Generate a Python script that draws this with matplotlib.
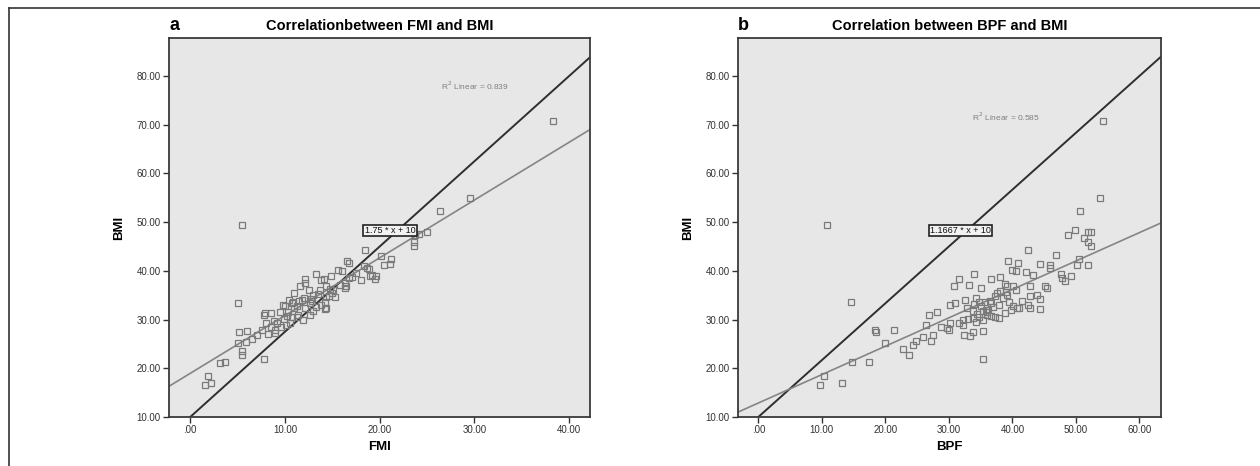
import numpy as np
import matplotlib
matplotlib.use("Agg")
import matplotlib.pyplot as plt
from matplotlib.ticker import FuncFormatter
from matplotlib.lines import Line2D

plt.rcParams['font.family'] = ['Liberation Sans', 'DejaVu Sans']

# panel a: FMI vs BMI
fmi_a = [38.3, 29.5, 26.4, 5.5, 25.0, 23.7, 23.6, 23.6, 24.2,
         18.5, 20.1, 21.2, 20.5, 21.1, 16.5, 16.8, 15.6, 18.7, 18.3,
         19.0, 19.2, 19.6, 18.0, 17.1, 16.3, 16.3, 16.4, 15.0, 14.7, 14.3, 13.5,
         14.9, 14.1, 13.3, 12.1, 11.6, 12.1, 13.8, 14.3, 13.0, 15.1,
         10.0, 10.3, 10.7, 11.0, 11.3, 11.8, 12.1, 12.6, 13.3, 13.8, 14.2,
         11.4, 10.7, 9.9, 9.2, 8.5, 7.8, 8.0, 7.6, 8.2, 8.9, 9.6, 10.5,
         7.1, 6.5, 5.9, 5.0, 5.1, 6.0, 5.0, 5.5, 5.5, 7.8, 3.1, 3.7,
         1.9, 1.6, 2.2,
         10.4, 9.8, 10.9, 8.5, 7.9, 12.6, 13.0, 11.9, 11.3, 12.9, 14.2, 14.3,
         15.3, 12.0, 11.0, 13.7, 15.8, 16.8, 17.5, 12.5, 9.5, 10.2, 8.8, 11.5,
         12.8, 14.8, 16.0, 18.9, 19.5, 9.0, 10.1]
bmi_a = [70.7, 55.0, 52.2, 49.4, 47.9, 47.4, 46.0, 45.1, 47.6,
         44.3, 43.1, 42.4, 41.3, 41.4, 42.1, 41.6, 40.2, 40.6, 40.9,
         38.9, 39.2, 39.0, 38.2, 38.7, 37.6, 36.5, 36.9, 35.4, 34.9, 34.7, 35.2,
         39.0, 38.4, 39.3, 38.4, 36.9, 37.5, 38.2, 36.8, 35.0, 36.1,
         32.8, 31.6, 33.3, 32.3, 32.8, 34.0, 32.3, 33.5, 32.6, 33.0, 32.1,
         30.9, 30.6, 30.2, 29.2, 28.5, 30.9, 29.2, 27.8, 27.0, 27.3, 28.5, 29.2,
         26.8, 26.1, 25.4, 25.1, 27.5, 27.7, 33.5, 23.6, 22.7, 22.0, 21.0, 21.2,
         18.5, 16.5, 17.0,
         34.1, 33.0, 33.7, 31.3, 31.3, 31.0, 31.7, 30.0, 30.6, 33.9, 33.7, 32.4,
         34.7, 34.5, 35.5, 36.0, 37.0, 38.5, 39.5, 36.0, 31.5, 30.8, 29.8, 33.8,
         34.3, 36.3, 40.0, 40.3, 38.3, 27.9, 28.9]

# panel b: BPF vs BMI
bpf_b = [54.3, 53.8, 50.7, 10.8, 49.8, 48.7, 51.9, 52.4, 51.2, 51.9, 52.3,
         42.5, 46.8, 39.3, 40.9, 44.4, 46.0, 50.5, 50.2, 51.9, 39.9, 40.5,
         46.0, 47.7, 49.2, 47.8, 48.3, 42.1, 43.3, 33.9, 31.6, 36.7, 38.1,
         30.8, 33.2, 35.0, 39.2, 40.1, 40.5, 42.7, 45.5, 45.2, 43.8, 42.7,
         44.3, 37.6, 39.2, 37.3, 34.2, 32.5, 31.0, 30.1, 34.8, 35.7, 36.7,
         37.9, 40.1, 40.8, 42.4, 42.7, 44.3, 39.8, 38.9, 32.9, 33.8, 35.4,
         36.0, 34.8, 33.8, 36.7, 37.9, 32.2, 35.4, 26.8, 28.1, 26.4, 28.7,
         30.1, 30.0, 29.7, 31.6, 32.2, 27.5, 27.2, 25.9, 24.9, 24.3, 22.7,
         23.8, 20.0, 21.4, 18.3, 18.6, 14.6, 14.8, 17.4, 10.3, 9.7, 13.2,
         35.4, 35.3, 32.4, 33.4, 33.8,
         34.0, 35.0, 36.2, 37.0, 38.5, 39.5, 41.0, 34.5, 36.5, 38.0, 33.0,
         35.8, 37.2, 39.0, 41.5, 36.0, 34.2, 38.8]
bmi_b = [70.7, 55.0, 52.2, 49.4, 48.4, 47.3, 47.9, 47.9, 46.7, 46.0, 45.2,
         44.2, 43.2, 42.1, 41.7, 41.4, 41.1, 42.5, 41.1, 41.2, 40.1, 39.9,
         40.6, 39.3, 38.9, 38.5, 38.0, 39.7, 39.2, 39.3, 38.4, 38.3, 38.8,
         36.8, 37.0, 36.5, 36.9, 36.8, 36.1, 36.8, 36.5, 36.8, 35.1, 34.9,
         34.2, 35.4, 35.1, 34.9, 34.5, 34.1, 33.4, 32.9, 33.7, 33.7, 33.4,
         33.0, 32.7, 32.4, 33.0, 32.4, 32.1, 32.0, 31.3, 32.4, 31.7, 31.7,
         31.0, 30.6, 30.3, 30.8, 30.3, 29.9, 29.9, 31.0, 31.5, 28.9, 28.5,
         29.3, 27.9, 28.3, 29.3, 28.9, 26.9, 25.5, 26.4, 25.7, 24.8, 24.0,
         22.8, 25.2, 27.8, 27.9, 27.4, 33.6, 21.2, 21.3, 18.5, 16.6, 17.0,
         22.0, 27.7, 26.9, 26.7, 27.4,
         33.2, 32.8, 31.9, 32.6, 34.4, 33.6, 32.4, 31.2, 33.9, 35.8, 30.2,
         32.0, 30.5, 35.6, 33.8, 31.6, 29.5, 37.2]

# fit lines (slope, intercept) and reference lines, as printed on the chart
fit_a = (1.186, 18.96)
fit_b = (0.583, 12.87)
ref_a = (1.75, 10)
ref_b = (1.1667, 10)
r2_a = 0.839
r2_b = 0.585
yticks = [10, 20, 30, 40, 50, 60, 70, 80]
xticks_a = [0, 10, 20, 30, 40]
xticks_b = [0, 10, 20, 30, 40, 50, 60]


def fmt(v, pos):
    s = f"{v:.2f}"
    return s[1:] if s.startswith("0") else s


fig = plt.figure(figsize=(12.6, 4.66), dpi=100)
W, H = 1260, 466


def px_axes(l, r, t, b):
    return fig.add_axes([l / W, 1 - b / H, (r - l) / W, (b - t) / H])


panels = [
    dict(box=(169, 590, 38, 417), x=fmi_a, y=bmi_a, xlim=(-2.24, 42.2), xticks=xticks_a,
         fit=fit_a, ref=ref_a, r2=r2_a, r2pos=(30.0, 78.0), lab=(21.1, 48.3),
         labtxt="1.75 * x + 10", letter="a", title="Correlationbetween FMI and BMI",
         xlabel="FMI"),
    dict(box=(738, 1161, 38, 417), x=bpf_b, y=bmi_b, xlim=(-3.2, 63.4), xticks=xticks_b,
         fit=fit_b, ref=ref_b, r2=r2_b, r2pos=(39.0, 71.7), lab=(31.8, 48.3),
         labtxt="1.1667 * x + 10", letter="b", title="Correlation between BPF and BMI",
         xlabel="BPF"),
]

for p in panels:
    l, r, t, b = p['box']
    ax = px_axes(l, r, t, b)
    ax.set_facecolor('#e7e7e7')
    ax.set_xlim(*p['xlim'])
    ax.set_ylim(10, 87.8)
    xs = np.array(p['xlim'])
    # reference line and fitted line
    ax.plot(xs, p['ref'][0] * xs + p['ref'][1], color='#2e2e2e', lw=1.4, zorder=2)
    ax.plot(xs, p['fit'][0] * xs + p['fit'][1], color='#858585', lw=1.2, zorder=2)
    ax.plot(p['x'], p['y'], ls='none', marker='s', ms=4.4, mfc='none',
            mec='#7a7a7a', mew=0.9, zorder=3)
    ax.text(p['r2pos'][0], p['r2pos'][1], "R$^2$ Linear = %.3f" % p['r2'],
            fontsize=6, color='#808080', ha='center', va='center')
    ax.text(p['lab'][0], p['lab'][1], p['labtxt'], fontsize=6.5, color='#111111',
            ha='center', va='center', zorder=4,
            bbox=dict(boxstyle='square,pad=0.15', fc='#f2f2f2', ec='#222222', lw=1.2))
    ax.set_xticks(p['xticks'])
    ax.set_yticks(yticks)
    ax.xaxis.set_major_formatter(FuncFormatter(fmt))
    ax.yaxis.set_major_formatter(FuncFormatter(fmt))
    ax.tick_params(labelsize=7, length=4, width=1, direction='out', pad=2,
                   colors='#333333', top=False, right=False)
    for s in ax.spines.values():
        s.set_color('#3a3a3a')
        s.set_linewidth(1.3)
    ax.set_xlabel(p['xlabel'], fontsize=9.5, fontweight='bold', labelpad=4)
    ax.set_ylabel("BMI", fontsize=9.5, fontweight='bold', labelpad=8)
    fig.text((l + r) / 2 / W, 1 - 26 / H, p['title'], fontsize=10.5, fontweight='bold',
             ha='center', va='center')
    fig.text(l / W, 1 - 25 / H, p['letter'], fontsize=13, fontweight='bold',
             ha='left', va='center')

# outer frame of the figure panel
fig.add_artist(Line2D([9 / W, 9 / W], [0, 1 - 8 / H], color='#333333', lw=1.2))
fig.add_artist(Line2D([9 / W, 1], [1 - 8 / H, 1 - 8 / H], color='#333333', lw=1.2))

fig.savefig("out.png", dpi=100)
